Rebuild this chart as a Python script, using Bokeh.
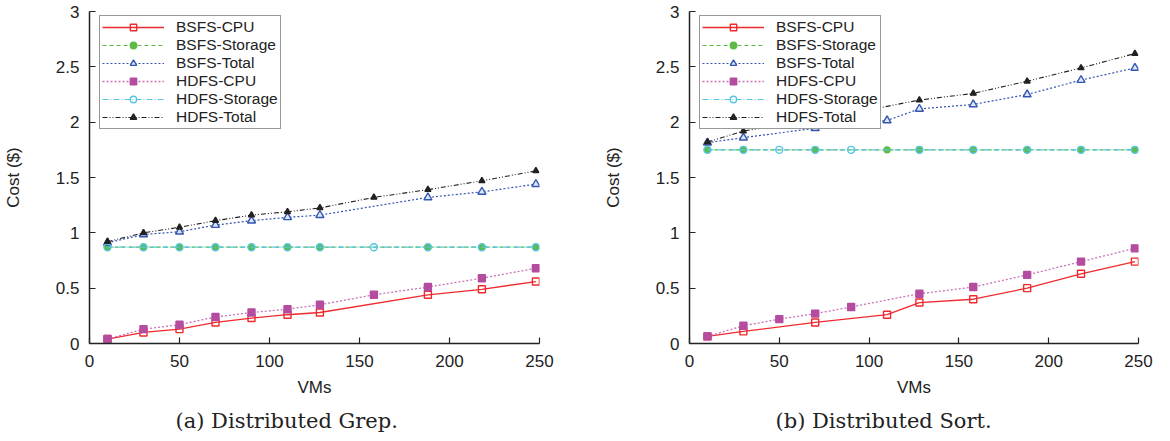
from bokeh.plotting import figure
from bokeh.layouts import row
from bokeh.models import (Legend, LegendItem, FixedTicker, NumeralTickFormatter,
                          Range1d, Title)
from bokeh.embed import file_html
from bokeh.resources import INLINE

# ---------------- data ----------------
series_names = ["BSFS-CPU", "BSFS-Storage", "BSFS-Total",
                "HDFS-CPU", "HDFS-Storage", "HDFS-Total"]
x_ticks = [0, 50, 100, 150, 200, 250]
y_ticks = [0, 0.5, 1, 1.5, 2, 2.5, 3]
captions = ["(a) Distributed Grep.", "(b) Distributed Sort."]

# (a) Distributed Grep
grep_bsfs_vms = [10, 30, 50, 70, 90, 110, 128, 188, 218, 248]
grep_bsfs_cpu = [0.04, 0.10, 0.13, 0.19, 0.23, 0.26, 0.28, 0.44, 0.49, 0.56]
grep_bsfs_storage = [0.87, 0.87, 0.87, 0.87, 0.87, 0.87, 0.87, 0.87, 0.87, 0.87]
grep_bsfs_total = [0.91, 0.985, 1.01, 1.07, 1.11, 1.14, 1.16, 1.32, 1.37, 1.44]
grep_hdfs_vms = [10, 30, 50, 70, 90, 110, 128, 158, 188, 218, 248]
grep_hdfs_cpu = [0.04, 0.13, 0.17, 0.24, 0.28, 0.31, 0.35, 0.44, 0.51, 0.59, 0.68]
grep_hdfs_storage = [0.87, 0.87, 0.87, 0.87, 0.87, 0.87, 0.87, 0.87, 0.87, 0.87, 0.87]
grep_hdfs_total = [0.92, 1.0, 1.05, 1.11, 1.16, 1.19, 1.225, 1.32, 1.39, 1.47, 1.56]

# (b) Distributed Sort
sort_bsfs_vms = [10, 30, 70, 110, 128, 158, 188, 218, 248]
sort_bsfs_cpu = [0.064, 0.11, 0.19, 0.26, 0.37, 0.40, 0.50, 0.63, 0.74]
sort_bsfs_storage = [1.75, 1.75, 1.75, 1.75, 1.75, 1.75, 1.75, 1.75, 1.75]
sort_bsfs_total = [1.815, 1.86, 1.945, 2.015, 2.12, 2.16, 2.25, 2.38, 2.49]
sort_hdfs_vms = [10, 30, 50, 70, 90, 128, 158, 188, 218, 248]
sort_hdfs_cpu = [0.064, 0.16, 0.22, 0.27, 0.33, 0.45, 0.51, 0.62, 0.74, 0.86]
sort_hdfs_storage = [1.75, 1.75, 1.75, 1.75, 1.75, 1.75, 1.75, 1.75, 1.75, 1.75]
sort_hdfs_total = [1.82, 1.92, 1.97, 2.015, 2.08, 2.2, 2.26, 2.37, 2.49, 2.62]

# ---------------- styles ----------------
STYLES = [
    dict(lc="#ef2a2f", dash="solid", marker="square", fill=None, mline="#ef2a2f", size=7, lw=1.3),
    dict(lc="#5dbb46", dash="4 3", marker="circle", fill="#5dbb46", mline="#5dbb46", size=6, lw=1.2),
    dict(lc="#3456b0", dash="2 2", marker="triangle", fill="#dfe6f6", mline="#3456b0", size=8, lw=1.2),
    dict(lc="#c971b9", dash="2 2", marker="square", fill="#b44c9f", mline="#b44c9f", size=7, lw=1.3),
    dict(lc="#56c6e3", dash="6 2 1 2", marker="circle", fill=None, mline="#56c6e3", size=7, lw=1.2),
    dict(lc="#222222", dash="5 2 1 2 1 2", marker="triangle", fill="#222222", mline="#222222", size=6, lw=1.1),
]

FONT = "Liberation Sans"


def make_panel(xs_list, ys_list, caption, width, left_border, right_border):
    p = figure(width=width, height=439, output_backend="svg", toolbar_location=None,
               x_range=Range1d(0, 250), y_range=Range1d(0, 3),
               min_border_left=left_border, min_border_right=right_border,
               min_border_top=11, min_border_bottom=0)
    p.outline_line_color = None
    p.xgrid.visible = False
    p.ygrid.visible = False
    p.background_fill_color = "white"
    p.border_fill_color = "white"

    items = []
    for name, xs, ys, st in zip(series_names, xs_list, ys_list, STYLES):
        lr = p.line(xs, ys, line_color=st["lc"], line_width=st["lw"], line_dash=st["dash"])
        sr = p.scatter(xs, ys, marker=st["marker"], size=st["size"],
                       fill_color=st["fill"], line_color=st["mline"], line_width=1.4)
        items.append(LegendItem(label=name, renderers=[lr, sr]))

    legend = Legend(items=items, location=(10, 214),
                    label_text_font=FONT, label_text_font_size="15.5px",
                    label_text_line_height=1.0,
                    label_text_color="#222222",
                    label_height=16, glyph_height=16, glyph_width=62,
                    spacing=0, padding=2, label_standoff=12,
                    border_line_color="#333333", border_line_width=1.5,
                    background_fill_alpha=1.0)
    p.add_layout(legend)

    for ax in (p.xaxis[0], p.yaxis[0]):
        ax.axis_line_color = "#222222"
        ax.axis_line_width = 1.5
        ax.major_tick_in = 6
        ax.major_tick_out = 0
        ax.major_tick_line_color = "#222222"
        ax.major_tick_line_width = 1.2
        ax.minor_tick_line_color = None
        ax.major_label_text_font = FONT
        ax.major_label_text_font_size = "17px"
        ax.major_label_text_color = "#222222"
        ax.axis_label_text_font = FONT
        ax.axis_label_text_font_size = "17px"
        ax.axis_label_text_font_style = "normal"
        ax.axis_label_text_color = "#222222"

    p.xaxis.ticker = FixedTicker(ticks=x_ticks)
    p.yaxis.ticker = FixedTicker(ticks=y_ticks)
    p.yaxis.formatter = NumeralTickFormatter(format="0.[0]")
    p.xaxis.major_label_standoff = 11
    p.yaxis.major_label_standoff = 10
    p.xaxis.axis_label = "VMs"
    p.yaxis.axis_label = "Cost ($)"
    p.xaxis.axis_label_standoff = 8
    p.yaxis.axis_label_standoff = 30

    cap = Title(text=caption, align="left", offset=86, text_font="DejaVu Serif",
                text_font_size="21px", text_font_style="normal", text_color="#222222",
                standoff=14)
    p.add_layout(cap, "below")
    return p


left = make_panel(
    [grep_bsfs_vms, grep_bsfs_vms, grep_bsfs_vms, grep_hdfs_vms, grep_hdfs_vms, grep_hdfs_vms],
    [grep_bsfs_cpu, grep_bsfs_storage, grep_bsfs_total, grep_hdfs_cpu, grep_hdfs_storage, grep_hdfs_total],
    captions[0], 600, 82, 61)
right = make_panel(
    [sort_bsfs_vms, sort_bsfs_vms, sort_bsfs_vms, sort_hdfs_vms, sort_hdfs_vms, sort_hdfs_vms],
    [sort_bsfs_cpu, sort_bsfs_storage, sort_bsfs_total, sort_hdfs_cpu, sort_hdfs_storage, sort_hdfs_total],
    captions[1], 554, 82, 16)

layout = row(left, right)
open("out.html", "w").write(file_html(layout, INLINE))
